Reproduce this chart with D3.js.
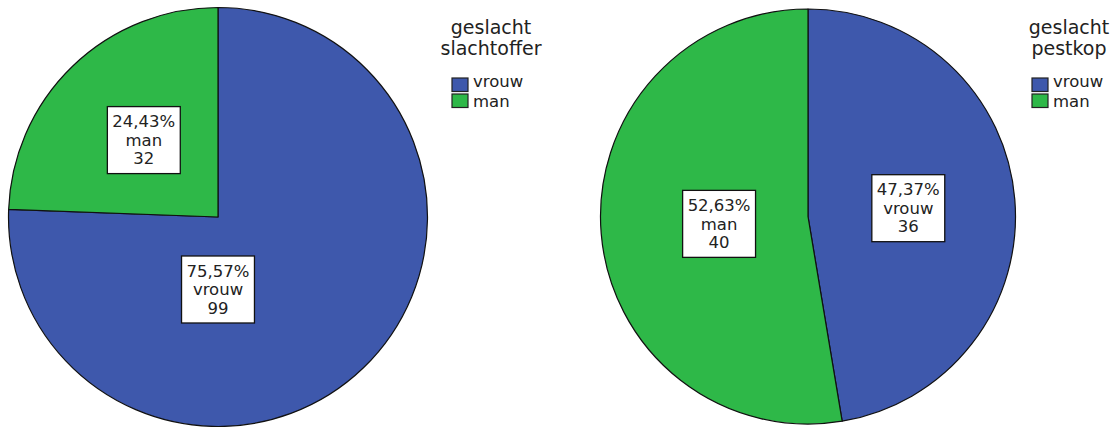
<!DOCTYPE html>
<html>
<head>
<meta charset="utf-8">
<script src="https://cdn.jsdelivr.net/npm/d3@7"></script>
<style>
  html, body { margin: 0; padding: 0; background: #fff; }
  svg { display: block; }
  text { font-family: "DejaVu Sans", Verdana, sans-serif; fill: #222; }
</style>
</head>
<body>
<svg id="chart" width="1119" height="427"></svg>
<script>
// ---- data ----
const categories = ["vrouw", "man"];
const victimCounts = [99, 32];   // geslacht slachtoffer
const bullyCounts = [36, 40];    // geslacht pestkop
const victimTitle = ["geslacht", "slachtoffer"];
const bullyTitle = ["geslacht", "pestkop"];
const colors = ["#3E58AC", "#2EB848"];

// ---- layout ----
const layout = [
  { counts: victimCounts, title: victimTitle, cx: 218, cy: 217, r: 209.5,
    legendX: 452, titleCX: 491,
    labelPolar: [{ angle: Math.PI, frac: 0.346 }, { frac: 0.51 }] },
  { counts: bullyCounts, title: bullyTitle, cx: 808, cy: 216.5, r: 207.5,
    legendX: 1032, titleCX: 1069,
    labelPolar: [{ frac: 0.485 }, { frac: 0.43 }] }
];

const svg = d3.select("#chart");
const color = d3.scaleOrdinal().domain(categories).range(colors);
const pie = d3.pie().sort(null).value(d => d.value);
const fmt = v => (v * 100).toFixed(2).replace(".", ",") + "%";

layout.forEach(cfg => {
  const total = d3.sum(cfg.counts);
  const rows = categories.map((c, i) => ({ cat: c, value: cfg.counts[i] }));
  const arcs = pie(rows);
  const arc = d3.arc().innerRadius(0).outerRadius(cfg.r);

  const g = svg.append("g").attr("transform", `translate(${cfg.cx},${cfg.cy})`);
  g.selectAll("path.slice").data(arcs).join("path")
    .attr("class", "slice")
    .attr("d", arc)
    .attr("fill", d => color(d.data.cat))
    .attr("stroke", "#111")
    .attr("stroke-width", 1.2)
    .attr("stroke-linejoin", "round");

  // labels
  arcs.forEach((d, i) => {
    const lp = cfg.labelPolar[i];
    const ang = lp.angle !== undefined ? lp.angle : (d.startAngle + d.endAngle) / 2;
    const x = Math.sin(ang) * cfg.r * lp.frac;
    const y = -Math.cos(ang) * cfg.r * lp.frac;
    const lines = [fmt(d.data.value / total), d.data.cat, String(d.data.value)];
    const lg = g.append("g").attr("transform", `translate(${x},${y})`);
    const rect = lg.append("rect");
    const lh = 18.5;
    const t = lg.append("text")
      .attr("text-anchor", "middle")
      .style("font-size", "16.5px");
    lines.forEach((s, k) => {
      t.append("tspan").attr("x", 0).attr("y", (k - 1) * lh).attr("dy", "0.35em").text(s);
    });
    const bb = t.node().getBBox();
    const w = bb.width + 10, h = 67;
    rect.attr("x", -w / 2).attr("y", -h / 2).attr("width", w).attr("height", h)
      .attr("fill", "#fff").attr("stroke", "#111").attr("stroke-width", 1.3);
  });

  // legend
  const leg = svg.append("g");
  leg.append("text")
    .attr("text-anchor", "middle")
    .style("font-size", "19px")
    .selectAll("tspan").data(cfg.title).join("tspan")
    .attr("x", cfg.titleCX)
    .attr("y", (d, k) => 34 + k * 21)
    .text(d => d);
  categories.forEach((c, i) => {
    const y0 = 78 + i * 16;
    leg.append("rect")
      .attr("x", cfg.legendX).attr("y", y0)
      .attr("width", 16).attr("height", 13.5)
      .attr("fill", color(c)).attr("stroke", "#222").attr("stroke-width", 1.2);
    leg.append("text")
      .attr("x", cfg.legendX + 21).attr("y", 87 + i * 20)
      .style("font-size", "16.5px")
      .text(c);
  });
});
</script>
</body>
</html>
